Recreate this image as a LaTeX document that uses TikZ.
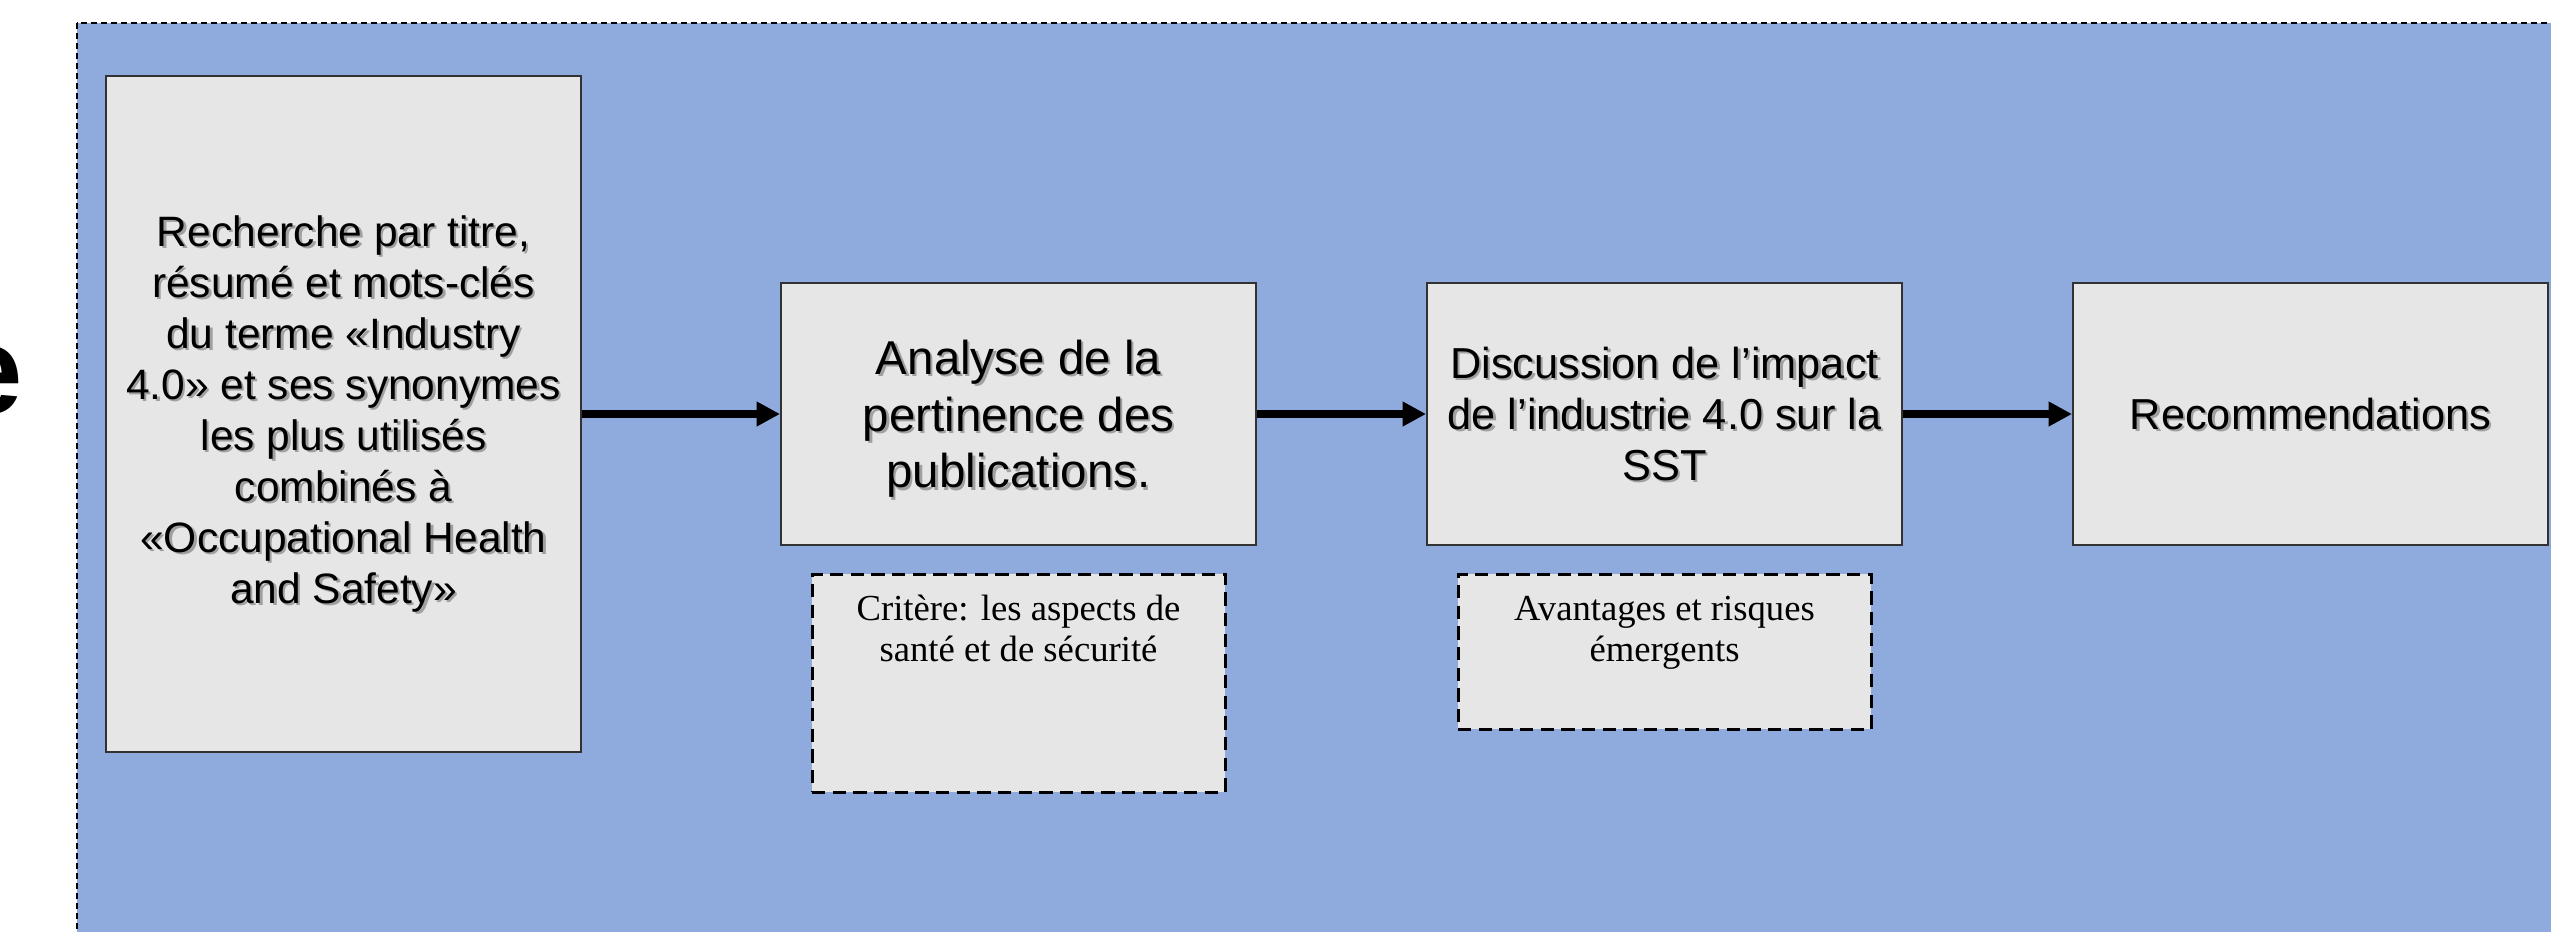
\documentclass[tikz,border=0pt]{standalone}
\usepackage{fontspec}
\setmainfont{Liberation Serif}
\newfontfamily\arialfont{Liberation Sans}
\usetikzlibrary{arrows.meta}
\definecolor{bgblue}{RGB}{143,171,221}
\definecolor{boxfill}{RGB}{230,230,230}
\definecolor{boxline}{RGB}{50,50,50}
\tikzset{
  bgpanel/.style={draw=black, line width=0.45pt, dash pattern=on 1.8pt off 1.2pt, fill=bgblue},
  procbox/.style={draw=boxline, line width=0.6pt, fill=boxfill, minimum width=142.5pt, minimum height=78.6pt, inner sep=0pt},
  notebox/.style={draw=black, line width=0.9pt, dash pattern=on 4pt off 2.2pt, fill=boxfill, minimum width=123.9pt, inner sep=0pt},
  sanstext/.style={align=center, inner sep=0pt, text=black},
  notetext/.style={align=center, inner sep=0pt, text=black, anchor=north, font=\fontsize{11pt}{12.3pt}\selectfont},
  shadowtext/.style={text=black, text opacity=0.3, xshift=0.7pt, yshift=-0.7pt},
  flow/.style={line width=2.4pt, -{Triangle[length=7pt,width=7pt]}}
}
\newcommand\shtext[4]{%
  \node[#3, shadowtext] (#1s) at #2 {#4};
  \node[#3] (#1) at #2 {#4};}
\begin{document}
\begin{tikzpicture}[x=0.3pt, y=-0.3pt]
\useasboundingbox (0,0) rectangle (2551,931);
% background panel
\draw[bgpanel] (77,23) rectangle (2620,1000);
% cut-off letter at the far left
\node[font=\arialfont\bfseries\fontsize{37.5pt}{40pt}\selectfont, anchor=base west, inner sep=0pt] (bigE) at (-47,413) {e};
% process boxes
\node[procbox, minimum height=202.8pt] (b1) at (343.5,414) {};
\node[procbox] (b2) at (1018.5,414) {};
\node[procbox] (b3) at (1664.5,414) {};
\node[procbox] (b4) at (2310.5,414) {};
% note boxes
\node[notebox, minimum height=65.4pt] (d2) at (1018.5,683) {};
\node[notebox, minimum height=46.5pt] (d3) at (1664.5,651.5) {};
% texts
\shtext{t1}{(b1.center)}{sanstext, font=\arialfont\fontsize{12.75pt}{15.3pt}\selectfont}{Recherche par titre,\\ résumé et mots-clés\\ du terme «Industry\\ 4.0» et ses synonymes\\ les plus utilisés\\ combinés à\\ «Occupational Health\\ and Safety»}
\shtext{t2}{([yshift=-1.5pt]b2.center)}{sanstext, font=\arialfont\fontsize{14.25pt}{17pt}\selectfont}{Analyse de la\\ pertinence des\\ publications.}
\shtext{t3}{(b3.center)}{sanstext, font=\arialfont\fontsize{13pt}{15.3pt}\selectfont}{Discussion de l’impact\\ de l’industrie 4.0 sur la\\ SST}
\shtext{t4}{(b4.center)}{sanstext, font=\arialfont\fontsize{13pt}{15.3pt}\selectfont}{Recommendations}
\node[notetext] (n2) at ([yshift=-6.6pt]d2.north) {Critère: les aspects de\\ santé et de sécurité};
\node[notetext] (n3) at ([yshift=-6.9pt]d3.north) {Avantages et risques\\ émergents};
% connectors
\draw[flow] (b1) -- (b2);
\draw[flow] (b2) -- (b3);
\draw[flow] (b3) -- (b4);
\end{tikzpicture}
\end{document}
